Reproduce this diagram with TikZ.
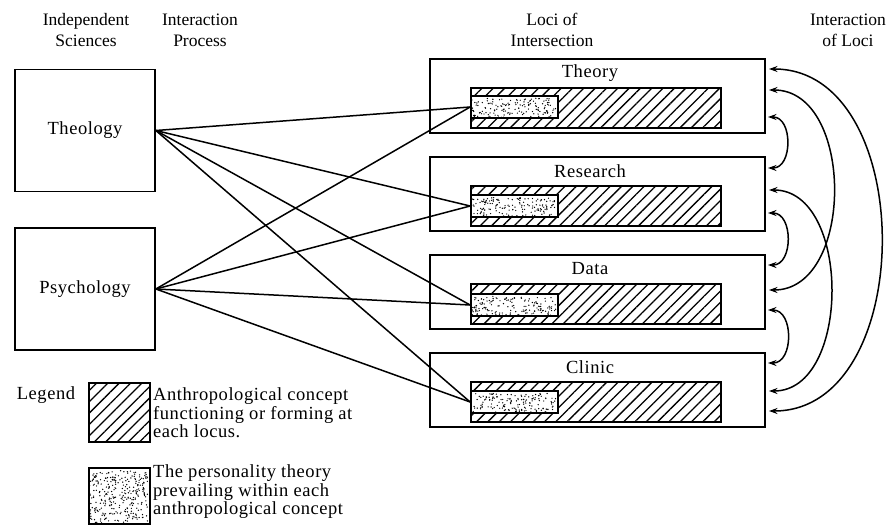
\documentclass[tikz,border=0pt]{standalone}
\usepackage{fontspec}
\setmainfont{Liberation Serif}[LetterSpace=3]
\newfontfamily\hdfamily{Liberation Serif}
\usetikzlibrary{patterns.meta,arrows.meta}

\newcommand{\labfont}{\fontsize{18.5}{18.5}\selectfont}
\newcommand{\hdfont}{\hdfamily\fontsize{17.5}{21}\selectfont}
% puntini casuali dentro un nodo: nome, larghezza, altezza, quanti
\newcommand{\speckle}[4]{%
  \begin{scope}[shift={(#1.south west)}]
    \foreach \k in {1,...,#4}
      \fill ({1.5pt+rnd*(#2pt-3pt)},{1.5pt+rnd*(#3pt-3pt)}) circle (0.7pt);
  \end{scope}}

\begin{document}
\begin{tikzpicture}[x=1pt, y=-1pt, >={Stealth[length=8.5pt,width=6pt]},
  every node/.style={font=\labfont},
  header/.style={align=center, font=\hdfont},
  science/.style={draw, line width=1.7pt, minimum width=140pt, minimum height=122pt},
  locus/.style={draw, line width=1.7pt, minimum width=335pt, minimum height=74pt},
  hatchbar/.style={draw, line width=1.7pt, minimum width=250pt, minimum height=40pt,
    pattern={Lines[angle=45,distance=8pt,line width=1.3pt]}},
  speckbar/.style={draw, line width=1.7pt, fill=white, minimum width=87pt, minimum height=22pt},
  wire/.style={line width=1.5pt},
  locarc/.style={<->, line width=1.5pt}]

\useasboundingbox (0,0) rectangle (887,525);
\pgfmathsetseed{4711}

\node[header] (hsci) at (86,30) {Independent\\Sciences};
\node[header] (hproc) at (200,30) {Interaction\\Process};
\node[header] (hloci) at (552,30) {Loci of\\Intersection};
\node[header] (hinter) at (848,30) {Interaction\\of Loci};

\node[science] (theology) at (85,130.5) {Theology};
\node[science] (psychology) at (85,289) {Psychology};

\node[locus] (theory) at (597.5,96) {};
\node[locus] (research) at (597.5,194) {};
\node[locus] (data) at (597.5,292) {};
\node[locus] (clinic) at (597.5,390) {};

\node (theorytitle) at (590,73) {Theory};
\node (researchtitle) at (590,171) {Research};
\node (datatitle) at (590,269) {Data};
\node (clinictitle) at (590,367) {Clinic};

\node[hatchbar] (theorybar) at (596,108) {};
\node[hatchbar] (researchbar) at (596,206) {};
\node[hatchbar] (databar) at (596,304) {};
\node[hatchbar] (clinicbar) at (596,402) {};

\node[speckbar] (theoryspk) at (514.5,107) {};
\node[speckbar] (researchspk) at (514.5,206) {};
\node[speckbar] (dataspk) at (514.5,305) {};
\node[speckbar] (clinicspk) at (514.5,402) {};
\speckle{theoryspk}{87}{22}{150}
\speckle{researchspk}{87}{22}{150}
\speckle{dataspk}{87}{22}{150}
\speckle{clinicspk}{87}{22}{150}

% Archi
\foreach \s in {theology,psychology}
  \foreach \l in {theory,research,data,clinic}
    \draw[wire] (\s.east) -- (\l spk.west);

% attacchi a destra
\coordinate (theoryA) at (769,69);
\coordinate (theoryB) at (769,90);
\coordinate (theoryC) at (768,117);
\coordinate (researchA) at (768,168);
\coordinate (researchB) at (769,190);
\coordinate (researchC) at (768,213);
\coordinate (dataA) at (768,265);
\coordinate (dataB) at (769,290);
\coordinate (dataC) at (768,310);
\coordinate (clinicA) at (768,363);
\coordinate (clinicB) at (769,391);
\coordinate (clinicC) at (769,411);

\draw[locarc] (theoryC) to[out=0,in=0,looseness=1.25] (researchA);
\draw[locarc] (researchC) to[out=0,in=0,looseness=1.25] (dataA);
\draw[locarc] (dataC) to[out=0,in=0,looseness=1.25] (clinicA);
\draw[locarc] (theoryB) to[out=0,in=0,looseness=1.1] (dataB);
\draw[locarc] (researchB) to[out=0,in=0,looseness=1.05] (clinicB);
\draw[locarc] (theoryA) to[out=0,in=0,looseness=1.12] (clinicC);

% Legenda
\node (legend) at (46,395) {Legend};
\node[draw, line width=1.7pt, minimum width=61pt, minimum height=59pt,
  pattern={Lines[angle=45,distance=8pt,line width=1.3pt]}] (keyhatch) at (119.5,412.5) {};
\node[anchor=west, align=left, inner sep=0pt] (keyhatchtext) at (153,413)
  {Anthropological concept\\functioning or forming at\\each locus.};
\node[draw, line width=1.7pt, fill=white, minimum width=61pt, minimum height=56pt] (keyspk) at (119.5,496) {};
\speckle{keyspk}{61}{56}{300}
\node[anchor=west, align=left, inner sep=0pt] (keyspktext) at (153,492)
  {The personality theory\\prevailing within each\\anthropological concept};

\end{tikzpicture}
\end{document}
